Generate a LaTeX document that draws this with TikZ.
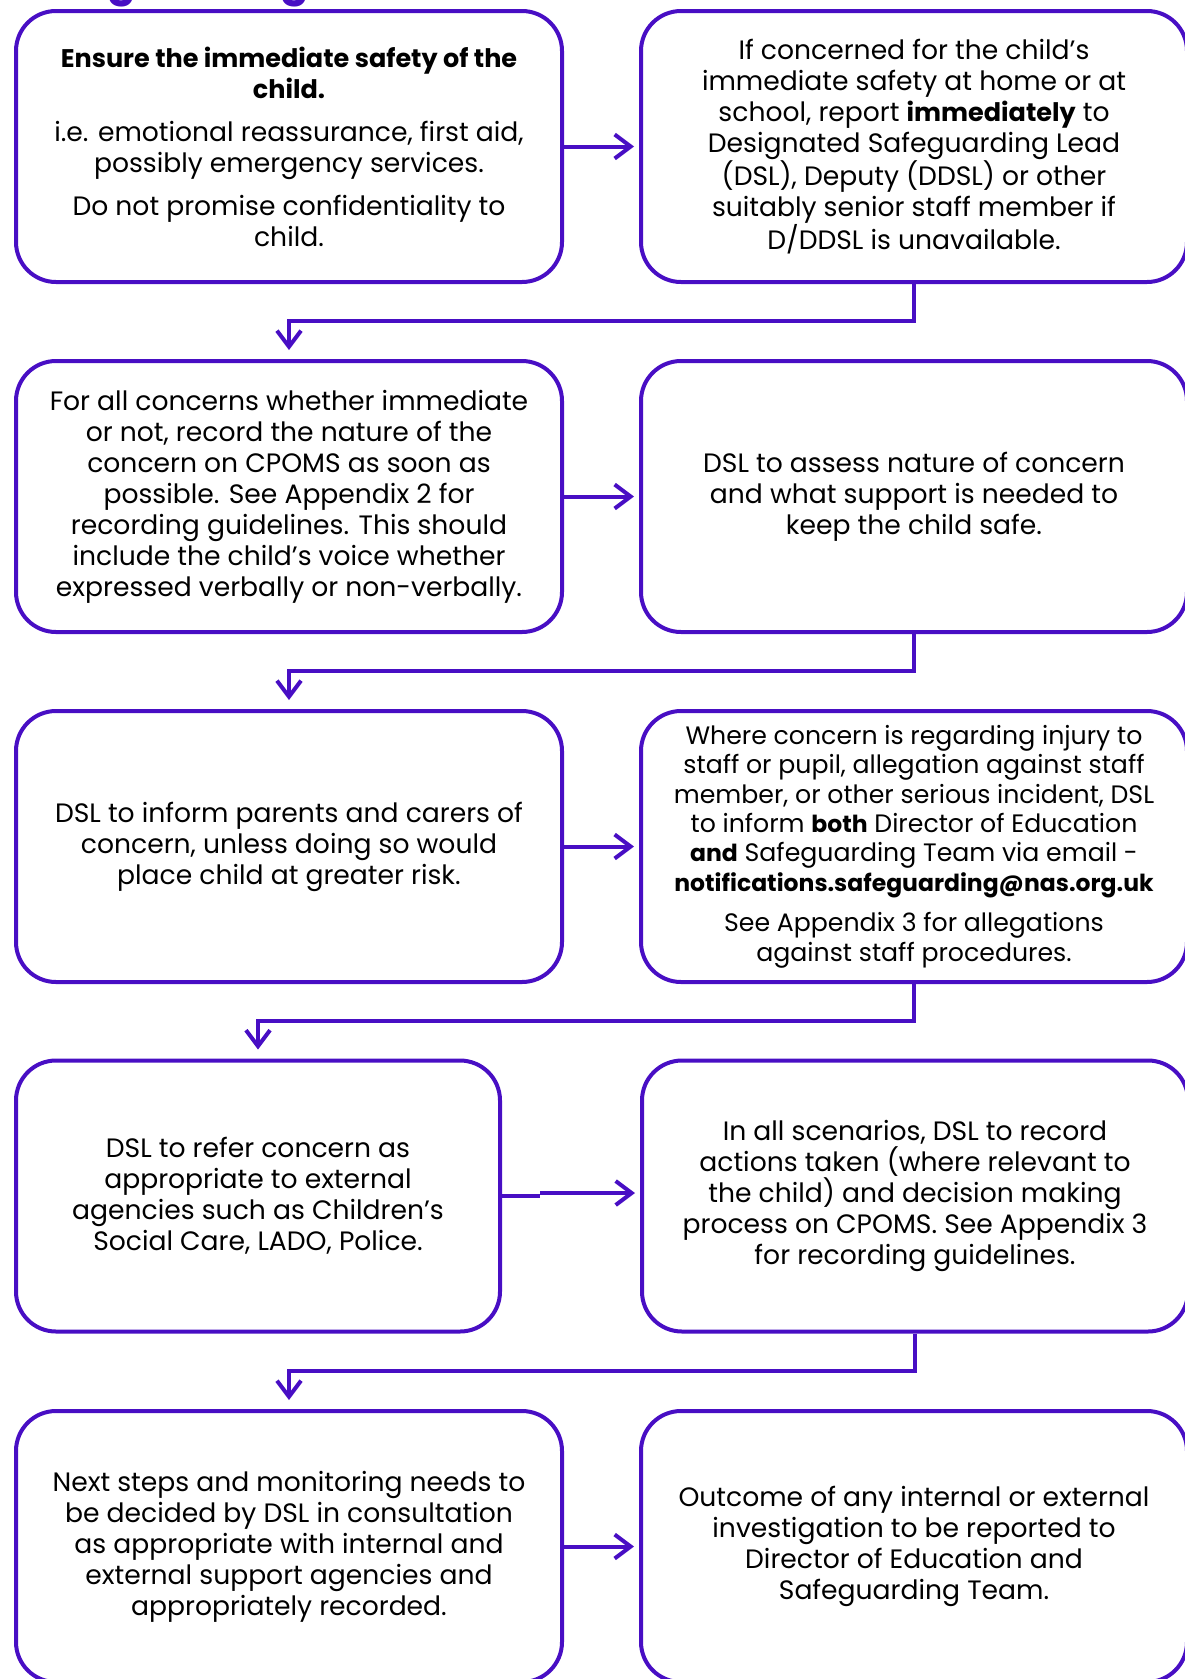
\documentclass[tikz,border=0pt]{standalone}
\usepackage{fontspec}
\setmainfont{Poppins}
\usetikzlibrary{arrows.meta}
\definecolor{flow}{RGB}{72,14,196}
\newcommand{\bld}[1]{{\fontsize{25.5}{31}\selectfont\bfseries #1}}
\newcommand{\sbld}[1]{{\fontsize{23.5}{29.4}\selectfont\bfseries #1}}
\tikzset{
  box/.style={draw=flow, line width=4pt, rounded corners=40pt,
    minimum width=546pt, minimum height=271pt, align=center, inner sep=0pt,
    text=black, font=\fontsize{26.6}{31}\selectfont},
  smallbox/.style={box, font=\fontsize{25.2}{29.4}\selectfont},
  conn/.style={draw=flow, line width=4pt},
  arr/.style={conn, -{Straight Barb[length=16pt,width=24pt]}},
  heading/.style={text=flow, font=\fontsize{42}{50}\selectfont\bfseries, inner sep=0pt}
}
\begin{document}
\begin{tikzpicture}[x=1pt,y=-1pt]
\useasboundingbox (0,0) rectangle (1184,1679);
\node[heading, anchor=base west] (title) at (12,-5) {Safeguarding};

\node[box] (b1) at (289,146.5) {\bld{Ensure the immediate safety of the}\\\bld{child.}\\[12pt]
i.e. emotional reassurance, first aid,\\possibly emergency services.\\[12pt]
Do not promise confidentiality to\\child.};
\node[box] (b2) at (914,146.5) {If concerned for the child's\\immediate safety at home or at\\school, report \bld{immediately} to\\Designated Safeguarding Lead\\(DSL), Deputy (DDSL) or other\\suitably senior staff member if\\D/DDSL is unavailable.};

\node[box] (b3) at (289,496.5) {For all concerns whether immediate\\or not, record the nature of the\\concern on CPOMS as soon as\\possible. See Appendix 2 for\\recording guidelines. This should\\include the child's voice whether\\expressed verbally or non-verbally.};
\node[box] (b4) at (914,496.5) {DSL to assess nature of concern\\and what support is needed to\\keep the child safe.};

\node[box] (b5) at (289,846.5) {DSL to inform parents and carers of\\concern, unless doing so would\\place child at greater risk.};
\node[smallbox] (b6) at (914,846.5) {Where concern is regarding injury to\\staff or pupil, allegation against staff\\member, or other serious incident, DSL\\to inform \sbld{both} Director of Education\\\sbld{and} Safeguarding Team via email -\\\sbld{notifications.safeguarding@nas.org.uk}\\[11pt]
See Appendix 3 for allegations\\against staff procedures.};

\node[box, minimum width=484pt] (b7) at (258,1196) {DSL to refer concern as\\appropriate to external\\agencies such as Children's\\Social Care, LADO, Police.};
\node[box] (b8) at (915,1196) {In all scenarios, DSL to record\\actions taken (where relevant to\\the child) and decision making\\process on CPOMS. See Appendix 3\\for recording guidelines.};

\node[box] (b9) at (289,1546.5) {Next steps and monitoring needs to\\be decided by DSL in consultation\\as appropriate with internal and\\external support agencies and\\appropriately recorded.};
\node[box] (b10) at (914,1546.5) {Outcome of any internal or external\\investigation to be reported to\\Director of Education and\\Safeguarding Team.};

% horizontal arrows
\draw[arr, shorten >=5pt] (b1.east) -- (b2.west);
\draw[arr, shorten >=5pt] (b3.east) -- (b4.west);
\draw[arr, shorten >=5pt] (b5.east) -- (b6.west);
\draw[conn] (b7.east) -- ++(38,0) coordinate (j);
\draw[arr, shorten >=5pt] ([yshift=3pt]j) -- ([yshift=3pt]j -| b8.west);
\draw[arr, shorten >=5pt] (b9.east) -- (b10.west);

% down connectors
\draw[arr, shorten >=9pt] (b2.south) -- ++(0,37) -| (b3.north);
\draw[arr, shorten >=9pt] (b4.south) -- ++(0,37) -| (b5.north);
\draw[arr, shorten >=9pt] (b6.south) -- ++(0,37) -| (b7.north);
\draw[arr, shorten >=9pt] (b8.south) -- ++(0,37) -| (b9.north);
\end{tikzpicture}
\end{document}
